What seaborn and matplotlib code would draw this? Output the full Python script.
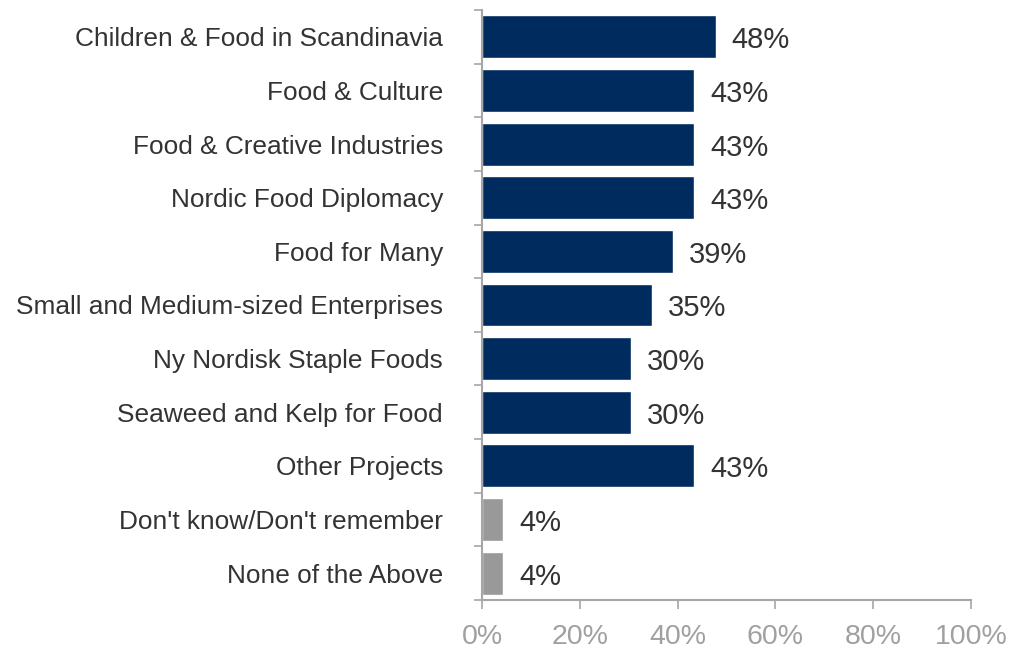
import matplotlib
matplotlib.use("Agg")
import matplotlib.pyplot as plt
import seaborn as sns
import pandas as pd
import numpy as np
from matplotlib.ticker import FixedLocator

categories = [
    "Children & Food in Scandinavia",
    "Food & Culture",
    "Food & Creative Industries",
    "Nordic Food Diplomacy",
    "Food for Many",
    "Small and Medium-sized Enterprises",
    "Ny Nordisk Staple Foods",
    "Seaweed and Kelp for Food",
    "Other Projects",
    "Don't know/Don't remember",
    "None of the Above",
]
values = [47.8, 43.4, 43.4, 43.4, 39.1, 34.8, 30.4, 30.4, 43.4, 4.3, 4.3]
groups = ["project"] * 9 + ["other"] * 2
palette = {"project": "#002B5E", "other": "#999999"}
xticks = [0, 20, 40, 60, 80, 100]

sns.set_theme(style="white")
plt.rcParams["font.family"] = ["Liberation Sans", "DejaVu Sans"]

df = pd.DataFrame({"category": categories, "value": values, "group": groups})

fig = plt.figure(figsize=(10.14, 6.49), dpi=100)
ax = fig.add_axes([482 / 1014, 49 / 649, 489 / 1014, 590 / 649])

sns.barplot(data=df, y="category", x="value", hue="group", palette=palette,
            order=categories, orient="h", dodge=False, width=0.8,
            legend=False, ax=ax, saturation=1)

for cont in ax.containers:
    texts = ax.bar_label(cont, labels=[f"{v:.0f}%" if v == v and v > 0 else "" for v in cont.datavalues],
                         padding=11.5, fontsize=21, color="#333333")
    for t in texts:
        t.xyann = (11.5, -2.5)

ax.set_xlim(0, 100)
ax.set_ylim(len(categories) - 0.5, -0.5)
ax.set_xticks(xticks)
ax.set_xticklabels([f"{t}%" for t in xticks], fontsize=20.5, color="#A0A0A0")
ax.set_xlabel("")
ax.set_ylabel("")

ax.set_yticks(range(len(categories)))
ax.set_yticklabels(categories, fontsize=18.9, color="#333333")
ax.tick_params(axis="y", which="major", length=0, pad=28)
ax.yaxis.set_minor_locator(FixedLocator(np.arange(-0.5, len(categories), 1.0)))
ax.tick_params(axis="y", which="minor", length=6, width=1.2, color="#A6A6A6", direction="out", left=True)
ax.tick_params(axis="x", which="major", length=6.5, width=1.2, color="#A6A6A6", direction="out", bottom=True, pad=11)

for s in ["top", "right"]:
    ax.spines[s].set_visible(False)
for s in ["left", "bottom"]:
    ax.spines[s].set_color("#A6A6A6")
    ax.spines[s].set_linewidth(1.5)

fig.savefig("out.png", dpi=100)
